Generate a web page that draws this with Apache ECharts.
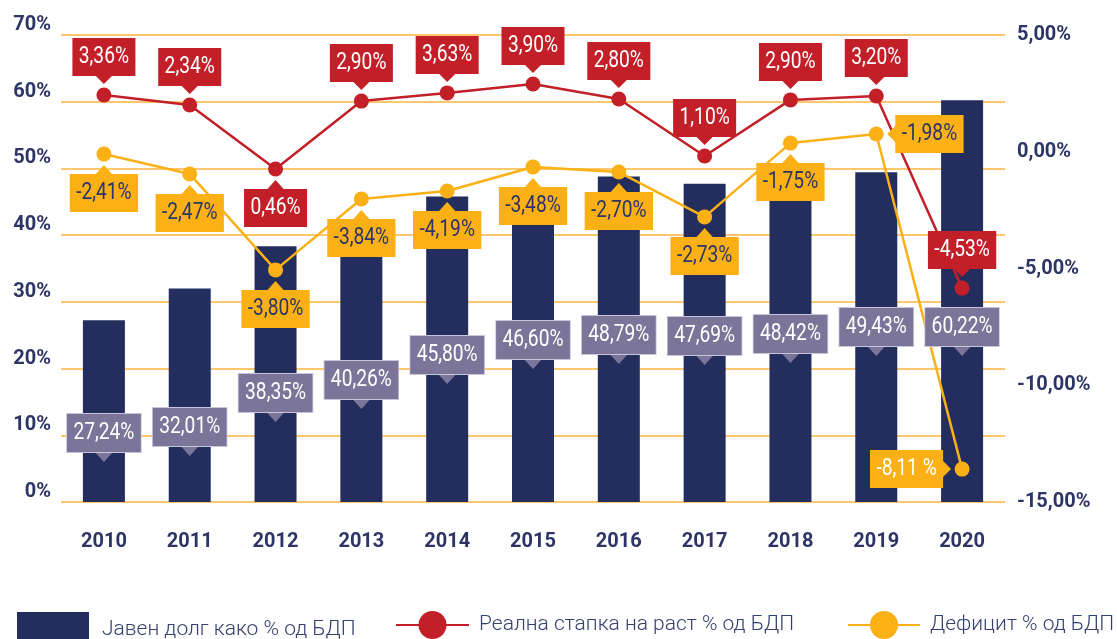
<!DOCTYPE html>
<html>
<head>
<meta charset="utf-8">
<title>Јавен долг, раст и дефицит</title>
<script src="https://cdn.jsdelivr.net/npm/echarts@6/dist/echarts.min.js"></script>
<style>
  html, body { margin: 0; padding: 0; background: #ffffff; }
  #chart { width: 1117px; height: 639px; }
</style>
</head>
<body>
<div id="chart"></div>
<script>
// ---- податоци ----
const years = ['2010', '2011', '2012', '2013', '2014', '2015', '2016', '2017', '2018', '2019', '2020'];
// јавен долг % од БДП
const debt = [27.24, 32.01, 38.35, 40.26, 45.80, 46.60, 48.79, 47.69, 48.42, 49.43, 60.22];
// реална стапка на раст - отпечатени ознаки
const growthLabels = ['3,36%', '2,34%', '0,46%', '2,90%', '3,63%', '3,90%', '2,80%', '1,10%', '2,90%', '3,20%', '-4,53%'];
// реална стапка на раст - каде точките се нацртани (читано од десната оска)
const growthPlotted = [2.43, 2.00, -0.74, 2.17, 2.52, 2.90, 2.26, -0.18, 2.22, 2.39, -5.84];
// дефицит - отпечатени ознаки
const deficitLabels = ['-2,41%', '-2,47%', '-3,80%', '-3,84%', '-4,19%', '-3,48%', '-2,70%', '-2,73%', '-1,75%', '-1,98%', '-8,11 %'];
// дефицит - каде точките се нацртани (читано од десната оска)
const deficitPlotted = [-0.10, -0.95, -5.06, -2.02, -1.68, -0.65, -0.87, -2.79, 0.37, 0.76, -13.59];
const leftTicks = { min: 0, max: 70, step: 10 };
const rightTicks = { min: -15, max: 5, step: 5 };

// ---- распоред на ознаките (не се податоци) ----
const debtTagAt = [10.34, 11.24, 16.34, 18.29, 22.04, 24.28, 25.03, 24.88, 25.18, 26.23, 26.23];
const growthTagPlace = ['top', 'top', 'bottom', 'top', 'top', 'top', 'top', 'top', 'top', 'top', 'top'];
const deficitTagPlace = ['bottom', 'bottom', 'bottom', 'bottom', 'bottom', 'bottom', 'bottom', 'bottom', 'bottom', 'right', 'left'];

const NAVY = '#232e5f';
const RED = '#c21f29';
const YELLOW = '#fbb116';
const TAG_GREY = '#7b7699';
const INK = '#2c3566';
const GRID = '#fbb53c';
const FONT = "Roboto, 'Noto Sans', sans-serif";
const SQUEEZE = 0.8; // кондензиран изглед на текстот во ознаките

const deficitTextColor = deficitLabels.map((t, i) => i === 10 ? '#ffffff' : INK);

// ознака со стрелка, нацртана преку оските
function tagSeries(name, yAxisIndex, values, texts, places, fill, textColors, border) {
  return {
    type: 'custom',
    name: name,
    yAxisIndex: yAxisIndex,
    z: 10,
    silent: true,
    clip: false,
    data: values.map((v, i) => [i, v]),
    renderItem: function (params, api) {
      const i = params.dataIndex;
      const p = api.coord([api.value(0), api.value(1)]);
      const x = p[0], y = p[1];
      const place = places[i];
      let tx = x, ty = y, align = 'center', tri;
      if (place === 'top') {
        ty = y - 38;
        tri = [[x - 9, y - 20], [x + 9, y - 20], [x, y - 11]];
      } else if (place === 'bottom') {
        ty = y + 39;
        tri = [[x - 9, y + 21], [x + 9, y + 21], [x, y + 11]];
      } else if (place === 'right') {
        tx = x + 19; align = 'left';
        tri = [[x + 20, y - 9], [x + 20, y + 9], [x + 11, y]];
      } else if (place === 'left') {
        tx = x - 19; align = 'right';
        tri = [[x - 20, y - 9], [x - 20, y + 9], [x - 11, y]];
      } else {
        // кутија центрирана на точката, стрелка надолу
        tri = [[x - 10, y + 18], [x + 10, y + 18], [x, y + 29]];
      }
      return {
        type: 'group',
        children: [
          { type: 'polygon', shape: { points: tri }, style: { fill: fill } },
          {
            type: 'text',
            x: tx, y: ty,
            scaleX: SQUEEZE,
            style: {
              x: 0, y: 0,
              text: texts[i],
              align: align,
              verticalAlign: 'middle',
              font: '24px ' + FONT,
              fill: textColors[i],
              backgroundColor: fill,
              padding: [7, 8, 7, 8],
              lineHeight: 24,
              borderColor: border || fill,
              borderWidth: border ? 1 : 0
            }
          }
        ]
      };
    }
  };
}

const chart = echarts.init(document.getElementById('chart'));

const legendText = { fontSize: 21, fontWeight: 300, color: '#34406e', fontFamily: FONT };

const option = {
  animation: false,
  backgroundColor: '#ffffff',
  textStyle: { fontFamily: FONT },
  grid: { left: 61, right: 112, top: 35, bottom: 137 },
  legend: [
    {
      data: [{ name: 'Јавен долг како % од БДП', icon: 'rect' }],
      left: 12, top: 607,
      itemWidth: 72, itemHeight: 36,
      selectedMode: false,
      textStyle: Object.assign({ padding: [0, 0, 0, 8] }, legendText)
    },
    {
      data: ['Реална стапка на раст % од БДП'],
      left: 390, top: 606,
      itemWidth: 73, itemHeight: 35,
      selectedMode: false,
      textStyle: Object.assign({ padding: [0, 0, 0, 5] }, legendText)
    },
    {
      data: ['Дефицит % од БДП'],
      left: 842, top: 606,
      itemWidth: 72, itemHeight: 35,
      selectedMode: false,
      textStyle: Object.assign({ padding: [0, 0, 0, 5] }, legendText)
    }
  ],
  xAxis: {
    type: 'category',
    data: years,
    axisLine: { show: false },
    axisTick: { show: false },
    axisLabel: { color: INK, fontSize: 20, fontWeight: 'bold', fontFamily: FONT, margin: 30 }
  },
  yAxis: [
    {
      type: 'value',
      min: leftTicks.min, max: leftTicks.max, interval: leftTicks.step,
      axisLine: { show: false },
      axisTick: { show: false },
      axisLabel: {
        color: INK, fontSize: 20, fontWeight: 'bold', fontFamily: FONT, margin: 10,
        verticalAlign: 'bottom', lineHeight: 20,
        formatter: v => v + '%'
      },
      splitLine: { lineStyle: { color: GRID, width: 1.5 } }
    },
    {
      type: 'value',
      min: rightTicks.min, max: rightTicks.max, interval: rightTicks.step,
      axisLine: { show: false },
      axisTick: { show: false },
      splitLine: { show: false },
      axisLabel: {
        color: INK, fontSize: 20, fontWeight: 'bold', fontFamily: FONT, margin: 12,
        formatter: v => v.toFixed(2).replace('.', ',') + '%'
      }
    }
  ],
  series: [
    {
      name: 'Јавен долг како % од БДП',
      type: 'bar',
      data: debt,
      barWidth: 42,
      itemStyle: { color: NAVY },
      z: 1
    },
    {
      name: 'Реална стапка на раст % од БДП',
      type: 'line',
      yAxisIndex: 1,
      data: growthPlotted,
      symbol: 'circle',
      symbolSize: 15,
      lineStyle: { color: RED, width: 2.5 },
      itemStyle: { color: RED },
      z: 4
    },
    {
      name: 'Дефицит % од БДП',
      type: 'line',
      yAxisIndex: 1,
      data: deficitPlotted,
      symbol: 'circle',
      symbolSize: 15,
      lineStyle: { color: YELLOW, width: 2.5 },
      itemStyle: { color: YELLOW },
      z: 3
    },
    tagSeries('debtTags', 0, debtTagAt, debt.map(v => v.toFixed(2).replace('.', ',') + '%'),
      debt.map(() => 'center'), TAG_GREY, debt.map(() => '#ffffff'), '#c9c6dc'),
    tagSeries('growthTags', 1, growthPlotted, growthLabels, growthTagPlace, RED,
      growthLabels.map(() => '#ffffff'), null),
    tagSeries('deficitTags', 1, deficitPlotted, deficitLabels, deficitTagPlace, YELLOW,
      deficitTextColor, null)
  ]
};

chart.setOption(option);
</script>
</body>
</html>
